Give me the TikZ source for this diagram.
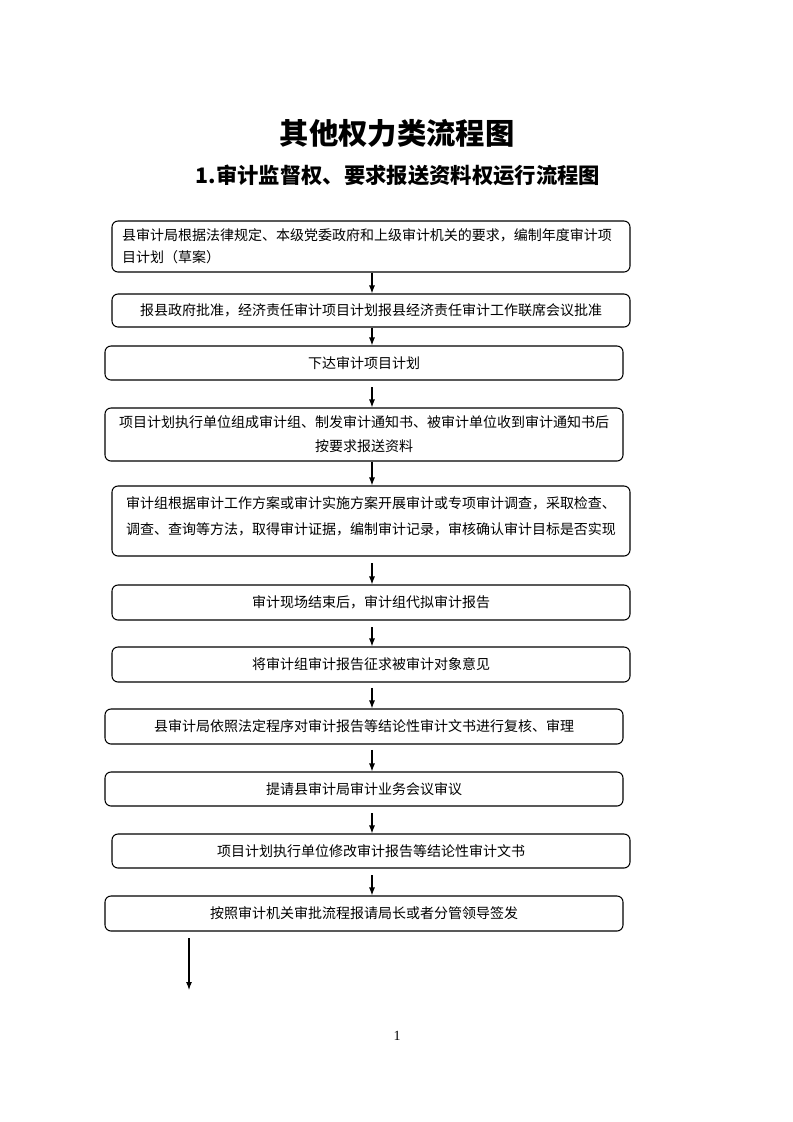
\documentclass[tikz,border=0pt]{standalone}
\usepackage{fontspec}
\setmainfont{Liberation Serif}
\newfontfamily\cjk{Noto Sans CJK SC}
\usetikzlibrary{arrows.meta}
\begin{document}
\begin{tikzpicture}[x=0.75pt,y=-0.75pt,
  box/.style={draw,line width=0.8pt,rounded corners=4.5pt,minimum width=388.5pt,inner sep=0pt,font=\cjk\fontsize{10.5pt}{18pt}\selectfont,align=center},
  arr/.style={-{Latex[length=6pt,width=4.5pt]},line width=0.8pt}]
\useasboundingbox (0,0) rectangle (793,1122);
\node[font=\cjk\bfseries\fontsize{22pt}{26pt}\selectfont] (title) at (397,133) {其他权力类流程图};
\node[font=\cjk\bfseries\fontsize{16pt}{20pt}\selectfont] (sub) at (398,175) {1.审计监督权、要求报送资料权运行流程图};
\coordinate (ax) at (372,0);
\node[box,minimum height=38.25pt,align=left,text width=373.5pt,font=\cjk\fontsize{10.5pt}{16.5pt}\selectfont] (b1) at (371,246.5) {县审计局根据法律规定、本级党委政府和上级审计机关的要求，编制年度审计项\\目计划（草案）};
\node[box,minimum height=24.75pt] (b2) at (371,310.5) {报县政府批准，经济责任审计项目计划报县经济责任审计工作联席会议批准};
\node[box,minimum height=25.5pt] (b3) at (364,363) {下达审计项目计划};
\node[box,minimum height=39.75pt] (b4) at (364,434.5) {项目计划执行单位组成审计组、制发审计通知书、被审计单位收到审计通知书后\\按要求报送资料};
\node[box,minimum height=52.5pt] (b5) at (371,521) {};
\node[anchor=north,inner sep=0pt,align=left,font=\cjk\fontsize{10.5pt}{19.5pt}\selectfont] (t5) at (371,496) {审计组根据审计工作方案或审计实施方案开展审计或专项审计调查，采取检查、\\调查、查询等方法，取得审计证据，编制审计记录，审核确认审计目标是否实现};
\node[box,minimum height=26.25pt] (b6) at (371,602.5) {审计现场结束后，审计组代拟审计报告};
\node[box,minimum height=26.25pt] (b7) at (371,664.5) {将审计组审计报告征求被审计对象意见};
\node[box,minimum height=26.25pt] (b8) at (364,726.5) {县审计局依照法定程序对审计报告等结论性审计文书进行复核、审理};
\node[box,minimum height=25.5pt] (b9) at (364,789) {提请县审计局审计业务会议审议};
\node[box,minimum height=25.5pt] (b10) at (371,851) {项目计划执行单位修改审计报告等结论性审计文书};
\node[box,minimum height=26.25pt] (b11) at (364,913.5) {按照审计机关审批流程报请局长或者分管领导签发};
\coordinate (endpt) at (189,990);
\node[font=\fontsize{10.5pt}{12pt}\selectfont,inner sep=0pt] (pg) at (397,1036) {1};
\draw[arr] (b1.south -| ax) -- (b2.north -| ax);
\draw[arr] (b2.south -| ax) -- (b3.north -| ax);
\draw[arr] ([yshift=-5pt]b3.south -| ax) -- (b4.north -| ax);
\draw[arr] (b4.south -| ax) -- (b5.north -| ax);
\draw[arr] ([yshift=-5pt]b5.south -| ax) -- (b6.north -| ax);
\draw[arr] ([yshift=-5pt]b6.south -| ax) -- (b7.north -| ax);
\draw[arr] ([yshift=-4pt]b7.south -| ax) -- (b8.north -| ax);
\draw[arr] ([yshift=-4pt]b8.south -| ax) -- (b9.north -| ax);
\draw[arr] ([yshift=-5pt]b9.south -| ax) -- (b10.north -| ax);
\draw[arr] ([yshift=-5pt]b10.south -| ax) -- (b11.north -| ax);
\draw[arr] ([yshift=-5pt]b11.south -| endpt) -- (endpt);
\end{tikzpicture}
\end{document}
